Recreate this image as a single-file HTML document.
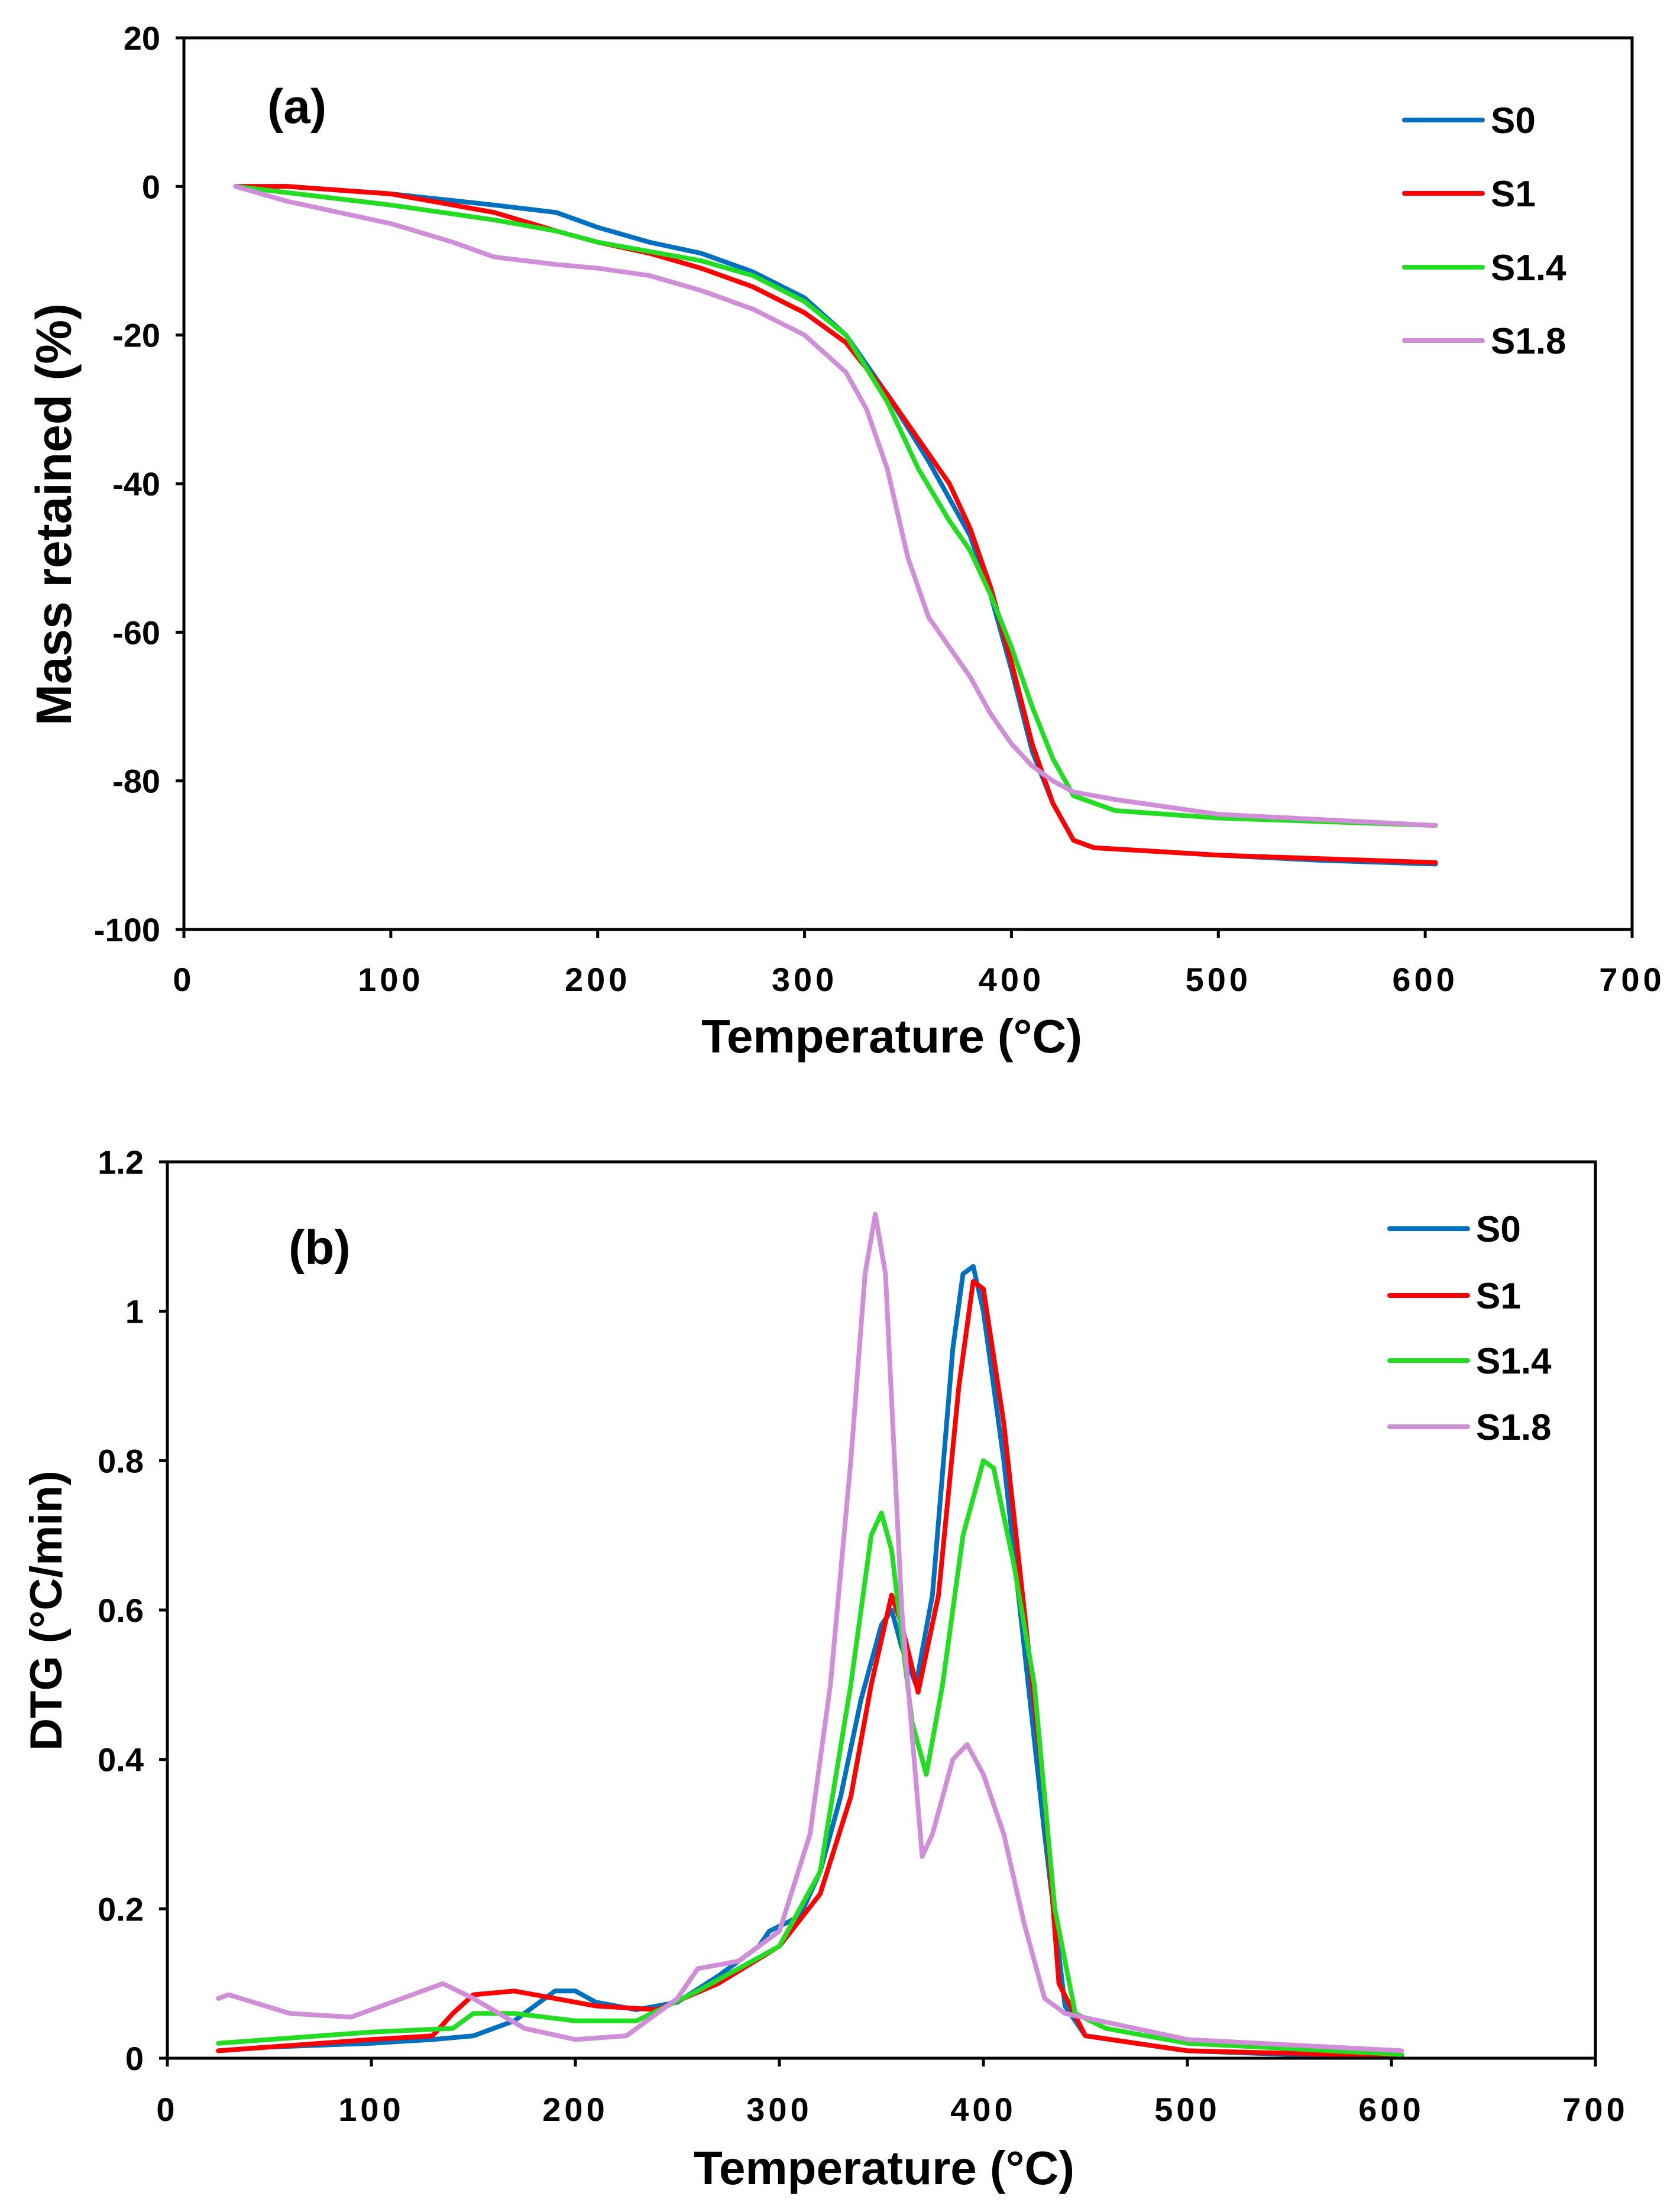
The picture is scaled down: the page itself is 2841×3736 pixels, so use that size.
<!DOCTYPE html>
<html><head><meta charset="utf-8"><style>
html,body{margin:0;padding:0;background:#fff}
svg{display:block}
text{font-family:"Liberation Sans",Arial,sans-serif;font-weight:bold;fill:#000}
</style></head><body>
<svg id="svg" width="2841" height="3736" viewBox="0 0 2841 3736" xmlns="http://www.w3.org/2000/svg"></svg>
<script>
// ---- Chart (a) data: Mass retained (%) vs Temperature ----
const aS0T=[25,50,100,150,180,200,225,250,275,300,320,340,360,380,390,400,410,420,430,440,500,550,605];
const aS0V=[0,0,-1,-2.5,-3.5,-5.5,-7.5,-9,-11.5,-15,-20,-28,-37,-47,-55,-65,-76,-83,-88,-89,-90,-90.7,-91.2];
const aS1T=[25,50,100,150,180,200,225,250,275,300,320,340,360,370,380,390,400,410,420,430,440,500,605];
const aS1V=[0,0,-1,-3.5,-6,-7.5,-9,-11,-13.5,-17,-21,-28,-36,-40,-46,-54,-64,-75,-83,-88,-89,-90,-91];
const aS14T=[25,100,150,180,200,250,275,300,320,340,355,370,380,390,400,410,420,430,450,500,605];
const aS14V=[0,-2.5,-4.5,-6,-7.5,-10,-12,-15.5,-20,-29,-38,-45,-49,-55,-62,-70,-77,-82,-84,-85,-86];
const aS18T=[25,50,100,130,150,180,200,225,250,275,300,320,330,340,350,360,370,380,390,400,410,420,430,450,500,605];
const aS18V=[0,-2,-5,-7.5,-9.5,-10.5,-11,-12,-14,-16.5,-20,-25,-30,-38,-50,-58,-62,-66,-71,-75,-78,-80,-81.5,-82.5,-84.5,-86];
const aXTicks=[0,100,200,300,400,500,600,700];
const aYTicks=[20,0,-20,-40,-60,-80,-100];
// ---- Chart (b) data: DTG vs Temperature ----
const bS0T=[25,50,100,130,150,170,190,200,210,230,250,270,290,295,310,320,330,340,350,355,360,367,375,385,390,395,400,410,420,430,440,450,500,550,605];
const bS0V=[0.01,0.015,0.02,0.025,0.03,0.05,0.09,0.09,0.075,0.065,0.075,0.11,0.15,0.17,0.19,0.25,0.35,0.48,0.58,0.6,0.55,0.5,0.62,0.95,1.05,1.06,1.0,0.8,0.55,0.3,0.07,0.03,0.01,0.005,0.003];
const bS1T=[25,100,130,140,150,170,190,210,240,270,300,320,335,345,355,360,368,378,388,395,400,410,420,430,437,450,500,605];
const bS1V=[0.01,0.025,0.03,0.06,0.085,0.09,0.08,0.07,0.065,0.1,0.15,0.22,0.35,0.5,0.62,0.58,0.49,0.62,0.9,1.04,1.03,0.85,0.6,0.35,0.1,0.03,0.01,0.003];
const bS14T=[25,50,100,140,150,170,200,230,260,300,320,335,345,350,355,365,372,380,390,400,405,415,425,435,445,460,500,605];
const bS14V=[0.02,0.025,0.035,0.04,0.06,0.06,0.05,0.05,0.09,0.15,0.25,0.5,0.7,0.73,0.68,0.45,0.38,0.5,0.7,0.8,0.79,0.66,0.5,0.2,0.06,0.04,0.02,0.005];
const bS18T=[25,30,60,90,110,135,150,175,200,225,250,260,280,300,315,325,335,342,347,352,360,370,375,385,392,400,410,420,430,440,500,605];
const bS18V=[0.08,0.085,0.06,0.055,0.075,0.1,0.08,0.04,0.025,0.03,0.08,0.12,0.13,0.17,0.3,0.5,0.8,1.05,1.13,1.05,0.6,0.27,0.3,0.4,0.42,0.38,0.3,0.18,0.08,0.06,0.025,0.01];
const bXTicks=[0,100,200,300,400,500,600,700];
const bYTicks=[1.2,1,0.8,0.6,0.4,0.2,0];
const bYLabels=["1.2","1","0.8","0.6","0.4","0.2","0"];
const seriesNames=["S0","S1","S1.4","S1.8"];
const colors=["#0070C0","#FF0000","#22DD22","#D08ED8"];

const svg=document.getElementById('svg');
const NS="http://www.w3.org/2000/svg";
function mk(tag,attrs,parent){const e=document.createElementNS(NS,tag);for(const k in attrs)e.setAttribute(k,attrs[k]);(parent||svg).appendChild(e);return e;}

function chart(cfg){
  const g=mk('g',{});
  
  
  const X=v=>cfg.L+(v-cfg.x0)/(cfg.x1-cfg.x0)*(cfg.R-cfg.L);
  const Y=v=>cfg.B-(v-cfg.y0)/(cfg.y1-cfg.y0)*(cfg.B-cfg.T);
  cfg.series.forEach((s,i)=>{
    const d=s[0].map((t,j)=>(j?'L':'M')+X(t).toFixed(1)+' '+Y(s[1][j]).toFixed(1)).join(' ');
    const p=mk('path',{d:d,fill:'none',stroke:colors[i],'stroke-width':8,'stroke-linejoin':'round','stroke-linecap':'round'},g);
    
    
  });
  const fr=mk('rect',{x:cfg.L,y:cfg.T,width:cfg.R-cfg.L,height:cfg.B-cfg.T,fill:'none',stroke:'#000','stroke-width':5},g);
  
  
  cfg.xt.forEach(v=>{
    mk('line',{x1:X(v),x2:X(v),y1:cfg.B,y2:cfg.B+14,stroke:'#000','stroke-width':5},g);
    const t=mk('text',{x:X(v),y:cfg.xLabY,'text-anchor':'middle','font-size':56,'letter-spacing':6},g);
    t.textContent=v;
    
    
  });
  cfg.yt.forEach((v,i)=>{
    mk('line',{x1:cfg.L-14,x2:cfg.L,y1:Y(v),y2:Y(v),stroke:'#000','stroke-width':5},g);
    const t=mk('text',{x:cfg.L-40,y:Y(v)+20,'text-anchor':'end','font-size':56},g);
    t.textContent=cfg.yl?cfg.yl[i]:v;
    
    
  });
  const xt=mk('text',{x:cfg.xTitleX,y:cfg.xTitleY,'text-anchor':'middle','font-size':80},g);
  xt.textContent='Temperature (°C)';
  
  
  const yt=mk('text',{x:0,y:0,'text-anchor':'middle','font-size':cfg.ytSize,transform:'translate('+cfg.yTitleX+','+cfg.yTitleY+') rotate(-90)'},g);
  yt.textContent=cfg.ytitle;
  
  
  const pl=mk('text',{x:cfg.panelX,y:cfg.panelY,'font-size':82},g);
  pl.textContent=cfg.panel;
  
  
  seriesNames.forEach((n,i)=>{
    const y=cfg.legY[i];
    const lg=mk('g',{},g);
    
    
    mk('line',{x1:cfg.legX,x2:cfg.legX+132,y1:y,y2:y,stroke:colors[i],'stroke-width':8,'stroke-linecap':'round'},lg);
    const t=mk('text',{x:cfg.legX+146,y:y+22,'font-size':62},lg);
    t.textContent=n;
  });
}

chart({name:'chart-a-mass-retained',L:311,R:2760,T:64,B:1572,x0:0,x1:700,y0:-100,y1:20,
  series:[[aS0T,aS0V],[aS1T,aS1V],[aS14T,aS14V],[aS18T,aS18V]],
  xt:aXTicks,yt:aYTicks,xLabY:1676,xTitleX:1508,xTitleY:1780,yTitleX:120,yTitleY:870,ytSize:84,ytitle:'Mass retained (%)',
  panel:'(a)',panelX:452,panelY:208,legX:2375,legY:[203,327,452,576]});
chart({name:'chart-b-dtg',L:283,R:2698,T:1965,B:3481,x0:0,x1:700,y0:0,y1:1.2,
  series:[[bS0T,bS0V],[bS1T,bS1V],[bS14T,bS14V],[bS18T,bS18V]],
  xt:bXTicks,yt:bYTicks,yl:bYLabels,xLabY:3587,xTitleX:1495,xTitleY:3694,yTitleX:104,yTitleY:2724,ytSize:76,ytitle:'DTG (°C/min)',
  panel:'(b)',panelX:488,panelY:2138,legX:2350,legY:[2078,2191,2301,2413]});
</script>
</body></html>
